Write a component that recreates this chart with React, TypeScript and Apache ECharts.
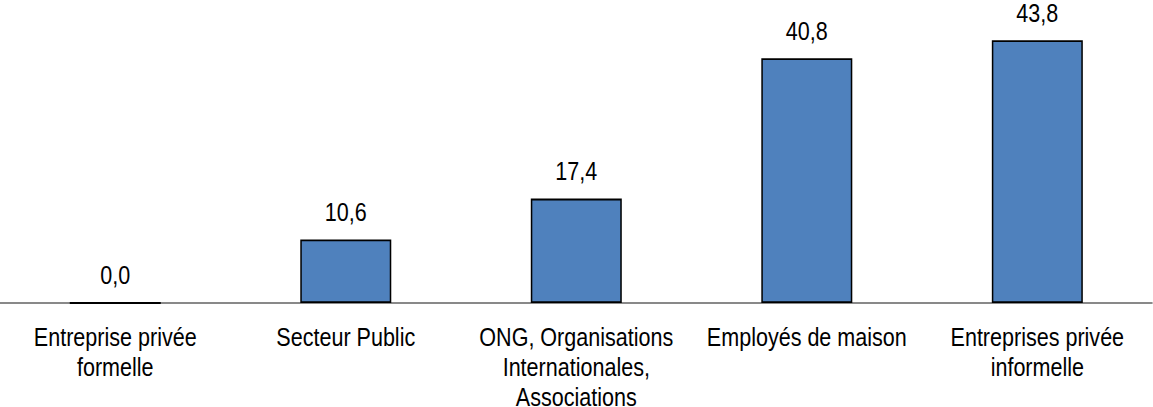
import React, { useEffect, useRef } from "react";
import * as echarts from "echarts";

const categories = [
  "Entreprise privée\nformelle",
  "Secteur Public",
  "ONG, Organisations\nInternationales,\nAssociations",
  "Employés de maison",
  "Entreprises privée\ninformelle",
];
const values = [0.0, 10.6, 17.4, 40.8, 43.8];
const yMin = 0;
const yMax = 50;

// The reference uses a narrow sans font; emulate it by compressing the chart horizontally.
const SX = 0.845;
const OUT_W = 1153;
const H = 407;
const W = OUT_W / SX;
const FONT = "'Liberation Sans', Arial, sans-serif";

export default function App() {
  const ref = useRef<HTMLDivElement>(null);
  useEffect(() => {
    if (!ref.current) return;
    const chart = echarts.init(ref.current, null, { renderer: "svg" });
    chart.setOption({
      animation: false,
      grid: {
        left: 0,
        right: 0,
        top: 3,
        bottom: 104,
        containLabel: false,
        outerBoundsMode: "none",
      },
      xAxis: {
        type: "category",
        data: categories,
        axisLine: { show: true, lineStyle: { color: "#898989", width: 2 } },
        axisTick: { show: false },
        axisLabel: {
          interval: 0,
          margin: 19,
          color: "#000",
          fontFamily: FONT,
          fontSize: 25.5,
          lineHeight: 30,
        },
      },
      yAxis: {
        type: "value",
        min: yMin,
        max: yMax,
        show: false,
        splitLine: { show: false },
      },
      series: [
        {
          type: "bar",
          data: values,
          barWidth: 91 / SX,
          itemStyle: { color: "#4F81BD", borderColor: "#000", borderWidth: 1.8 },
          label: {
            show: true,
            position: "top",
            distance: 14,
            color: "#000",
            fontFamily: FONT,
            fontSize: 25.5,
            lineHeight: 26,
            formatter: (p: any) => Number(p.value).toFixed(1).replace(".", ","),
          },
        },
      ],
    });
    return () => chart.dispose();
  }, []);
  return (
    <div
      style={{
        position: "fixed",
        left: 0,
        top: 0,
        width: OUT_W,
        height: H,
        overflow: "hidden",
        background: "#fff",
      }}
    >
      <div
        ref={ref}
        style={{
          width: W,
          height: H,
          overflow: "hidden",
          transform: `scaleX(${SX})`,
          transformOrigin: "0 0",
        }}
      />
    </div>
  );
}
